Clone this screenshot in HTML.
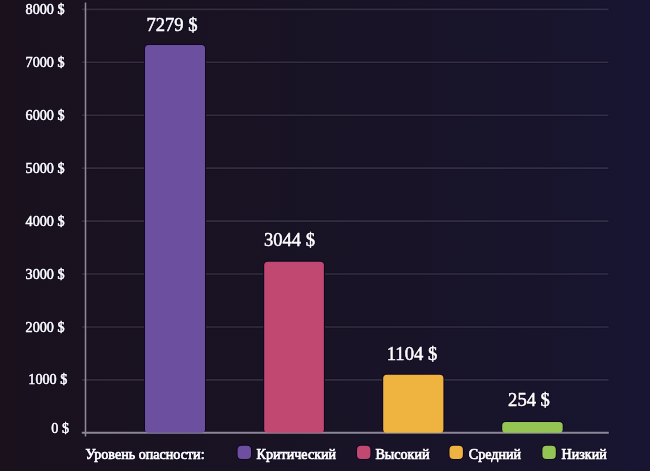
<!DOCTYPE html>
<html><head><meta charset="utf-8">
<style>
html,body{margin:0;padding:0;}
body{width:650px;height:471px;overflow:hidden;background:linear-gradient(90deg,#1a111d 0%,#181325 50%,#18142b 80%,#171532 100%);}
svg{display:block;font-family:"Liberation Serif",serif;}
.h{stroke:#120a22;stroke-width:2.4px;fill:#120a22;stroke-linejoin:round;}
.t{filter:grayscale(1);stroke:#ffffff;fill:#ffffff;}
</style></head><body>
<svg width="650" height="471" viewBox="0 0 650 471">
<g stroke="#0c0614" stroke-opacity="0.3" stroke-width="3.2">
<line x1="81" x2="609.5" y1="9.4" y2="9.4"/>
<line x1="81" x2="609.5" y1="62.32" y2="62.32"/>
<line x1="81" x2="609.5" y1="115.25" y2="115.25"/>
<line x1="81" x2="609.5" y1="168.17" y2="168.17"/>
<line x1="81" x2="609.5" y1="221.1" y2="221.1"/>
<line x1="81" x2="609.5" y1="274.02" y2="274.02"/>
<line x1="81" x2="609.5" y1="326.95" y2="326.95"/>
<line x1="81" x2="609.5" y1="379.87" y2="379.87"/>
<line x1="85.5" x2="85.5" y1="1.6" y2="437.6"/>
<line x1="81" x2="610" y1="432.8" y2="432.8"/>
</g>
<g stroke="#d8d4ff" stroke-opacity="0.16" stroke-width="1.6">
<line x1="81.8" x2="608.6" y1="9.4" y2="9.4"/>
<line x1="81.8" x2="608.6" y1="62.32" y2="62.32"/>
<line x1="81.8" x2="608.6" y1="115.25" y2="115.25"/>
<line x1="81.8" x2="608.6" y1="168.17" y2="168.17"/>
<line x1="81.8" x2="608.6" y1="221.1" y2="221.1"/>
<line x1="81.8" x2="608.6" y1="274.02" y2="274.02"/>
<line x1="81.8" x2="608.6" y1="326.95" y2="326.95"/>
<line x1="81.8" x2="608.6" y1="379.87" y2="379.87"/>
</g>
<g stroke="#0f0720" stroke-width="2" fill="#0f0720">
<rect x="145" y="45" width="60" height="387.8" rx="3.5"/>
<rect x="264.2" y="261.7" width="59.7" height="171.10000000000002" rx="3.5"/>
<rect x="383.2" y="374.7" width="60.2" height="58.10000000000002" rx="3.5"/>
<rect x="502.2" y="422" width="60.5" height="10.800000000000011" rx="3.5"/>
<rect x="237.6" y="445.7" width="13.4" height="13.3" rx="4"/>
<rect x="357.0" y="445.7" width="13.4" height="13.3" rx="4"/>
<rect x="449.5" y="445.7" width="13.4" height="13.3" rx="4"/>
<rect x="542.4" y="445.7" width="13.4" height="13.3" rx="4"/>
</g>
<line x1="85.5" x2="85.5" y1="2.5" y2="436.6" stroke="#8d8899" stroke-width="1.6"/>
<line x1="81.8" x2="608.8" y1="432.8" y2="432.8" stroke="#8d8899" stroke-width="2"/>
<rect x="145" y="45" width="60" height="387.8" rx="3.5" fill="#6c4f9e"/>
<rect x="264.2" y="261.7" width="59.7" height="171.10000000000002" rx="3.5" fill="#c04871"/>
<rect x="383.2" y="374.7" width="60.2" height="58.10000000000002" rx="3.5" fill="#efb440"/>
<rect x="502.2" y="422" width="60.5" height="10.800000000000011" rx="3.5" fill="#94c454"/>
<rect x="237.6" y="445.7" width="13.4" height="13.3" rx="4" fill="#6c4f9e"/>
<rect x="357.0" y="445.7" width="13.4" height="13.3" rx="4" fill="#c04871"/>
<rect x="449.5" y="445.7" width="13.4" height="13.3" rx="4" fill="#efb440"/>
<rect x="542.4" y="445.7" width="13.4" height="13.3" rx="4" fill="#94c454"/>
<g class="h" font-size="14.2" text-anchor="end" >
<text x="64.6" y="13.6">8000 $</text>
<text x="64.6" y="66.6">7000 $</text>
<text x="64.6" y="119.6">6000 $</text>
<text x="64.6" y="172.6">5000 $</text>
<text x="64.6" y="225.6">4000 $</text>
<text x="64.6" y="278.6">3000 $</text>
<text x="64.6" y="331.6">2000 $</text>
<text x="67.3" y="384.3">1000 $</text>
<text x="69.0" y="433.4">0 $</text>
</g>
<g class="h" font-size="18.6" text-anchor="middle" >
<text x="172" y="31">7279 $</text>
<text x="289.5" y="246">3044 $</text>
<text x="412" y="360">1104 $</text>
<text x="529" y="406">254 $</text>
</g>
<g class="h" font-size="14.1" >
<text x="85.5" y="458.9">Уровень опасности:</text>
<text x="256.6" y="458.9">Критический</text>
<text x="375.4" y="458.9">Высокий</text>
<text x="468.8" y="458.9">Средний</text>
<text x="561.5" y="458.9">Низкий</text>
</g>
<g class="t" font-size="14.2" text-anchor="end" stroke-width="0.5">
<text x="64.6" y="13.6">8000 $</text>
<text x="64.6" y="66.6">7000 $</text>
<text x="64.6" y="119.6">6000 $</text>
<text x="64.6" y="172.6">5000 $</text>
<text x="64.6" y="225.6">4000 $</text>
<text x="64.6" y="278.6">3000 $</text>
<text x="64.6" y="331.6">2000 $</text>
<text x="67.3" y="384.3">1000 $</text>
<text x="69.0" y="433.4">0 $</text>
</g>
<g class="t" font-size="18.6" text-anchor="middle" stroke-width="0.5">
<text x="172" y="31">7279 $</text>
<text x="289.5" y="246">3044 $</text>
<text x="412" y="360">1104 $</text>
<text x="529" y="406">254 $</text>
</g>
<g class="t" font-size="14.1" stroke-width="0.7">
<text x="85.5" y="458.9">Уровень опасности:</text>
<text x="256.6" y="458.9">Критический</text>
<text x="375.4" y="458.9">Высокий</text>
<text x="468.8" y="458.9">Средний</text>
<text x="561.5" y="458.9">Низкий</text>
</g>
</svg>
</body></html>
